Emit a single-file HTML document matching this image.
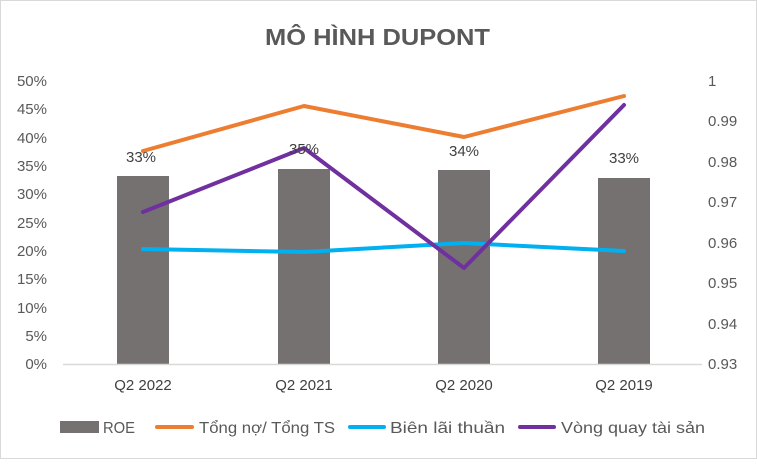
<!DOCTYPE html>
<html><head><meta charset="utf-8"><style>
body{margin:0;background:#fff;}
svg text{font-family:"Liberation Sans Narrow","Liberation Sans",sans-serif;}
</style></head><body>
<svg width="757" height="459" xmlns="http://www.w3.org/2000/svg">
<rect x="0.5" y="0.5" width="756" height="458" fill="#fff" stroke="#d9d9d9"/>
<text x="265" y="45" font-size="23" font-weight="bold" fill="#595959" textLength="225" lengthAdjust="spacingAndGlyphs">MÔ HÌNH DUPONT</text>
<g font-size="15" fill="#595959" text-anchor="end">
<text x="47" y="86">50%</text>
<text x="47" y="114">45%</text>
<text x="47" y="143">40%</text>
<text x="47" y="171">35%</text>
<text x="47" y="199">30%</text>
<text x="47" y="228">25%</text>
<text x="47" y="256">20%</text>
<text x="47" y="284">15%</text>
<text x="47" y="313">10%</text>
<text x="47" y="341">5%</text>
<text x="47" y="369">0%</text>
</g>
<g font-size="15" fill="#595959" text-anchor="start">
<text x="708" y="86">1</text>
<text x="708" y="126">0.99</text>
<text x="708" y="167">0.98</text>
<text x="708" y="207">0.97</text>
<text x="708" y="248">0.96</text>
<text x="708" y="288">0.95</text>
<text x="708" y="329">0.94</text>
<text x="708" y="369">0.93</text>
</g>
<g fill="#767171">
<rect x="117" y="176" width="52" height="188"/>
<rect x="278" y="169" width="52" height="195"/>
<rect x="438" y="170" width="52" height="194"/>
<rect x="598" y="178" width="52" height="186"/>
</g>
<line x1="63" y1="364.5" x2="702" y2="364.5" stroke="#d9d9d9" stroke-width="1.5"/>
<polyline points="143,151 304,106 464,137 624,96" fill="none" stroke="#ed7d31" stroke-width="4" stroke-linejoin="round" stroke-linecap="round"/>
<polyline points="143,249 304,252 464,243 624,251" fill="none" stroke="#00b0f0" stroke-width="4" stroke-linejoin="round" stroke-linecap="round"/>
<polyline points="143,212 304,148 464,268 624,105" fill="none" stroke="#7030a0" stroke-width="4" stroke-linejoin="round" stroke-linecap="round"/>
<g font-size="15" fill="#404040" text-anchor="middle">
<text x="141" y="162">33%</text>
<text x="304" y="154">35%</text>
<text x="464" y="156">34%</text>
<text x="624" y="163">33%</text>
</g>
<g font-size="15" fill="#404040" text-anchor="middle">
<text x="143" y="390">Q2 2022</text>
<text x="304" y="390">Q2 2021</text>
<text x="464" y="390">Q2 2020</text>
<text x="624" y="390">Q2 2019</text>
</g>
<g font-size="16" fill="#595959">
<rect x="60" y="421" width="39" height="12" fill="#767171"/>
<text x="103" y="433" textLength="32" lengthAdjust="spacingAndGlyphs">ROE</text>
<line x1="157" y1="427" x2="192" y2="427" stroke="#ed7d31" stroke-width="4" stroke-linecap="round"/>
<text x="199" y="433" textLength="136" lengthAdjust="spacingAndGlyphs">Tổng nợ/ Tổng TS</text>
<line x1="350" y1="427" x2="384" y2="427" stroke="#00b0f0" stroke-width="4" stroke-linecap="round"/>
<text x="390" y="433" textLength="115" lengthAdjust="spacingAndGlyphs">Biên lãi thuần</text>
<line x1="520" y1="427" x2="554" y2="427" stroke="#7030a0" stroke-width="4" stroke-linecap="round"/>
<text x="561" y="433" textLength="144" lengthAdjust="spacingAndGlyphs">Vòng quay tài sản</text>
</g>
</svg>
</body></html>
